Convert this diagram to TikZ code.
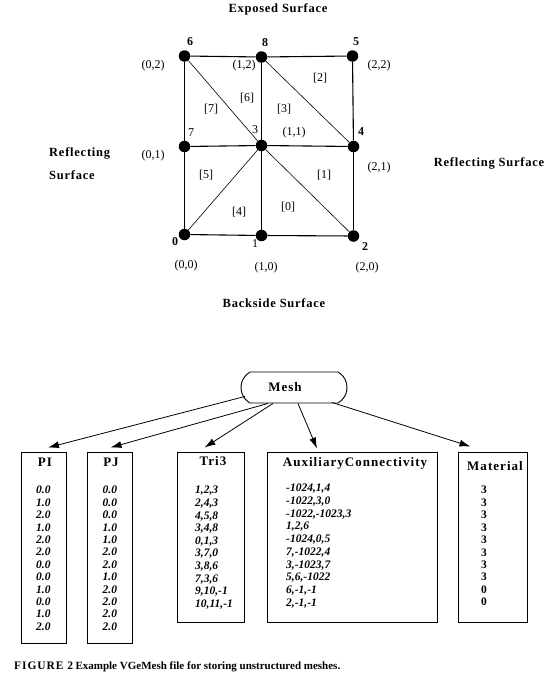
\documentclass[tikz,border=0pt]{standalone}
\usepackage{fontspec}
\setmainfont{Liberation Serif}
\usetikzlibrary{arrows.meta,shapes.misc}
\begin{document}
\begin{tikzpicture}[x=1pt,y=-1pt,
  dot/.style={circle,fill=black,inner sep=0pt,minimum size=11.5pt},
  gridline/.style={line width=1.1pt},
  diagline/.style={line width=0.6pt},
  lbl/.style={inner sep=0pt,font=\fontsize{12}{14}\selectfont},
  numb/.style={inner sep=0pt,font=\fontsize{12}{14}\selectfont},
  numbb/.style={inner sep=0pt,font=\fontsize{12}{14}\selectfont\bfseries},
  ttl/.style={inner sep=0pt,font=\fontsize{12.5}{15}\selectfont\bfseries\addfontfeature{LetterSpace=6}},
  box/.style={draw,line width=0.9pt,inner sep=0pt},
  head/.style={inner sep=0pt,font=\fontsize{13}{15}\selectfont\bfseries\addfontfeature{LetterSpace=8}},
  vals/.style={inner sep=0pt,anchor=north west,align=left,font=\fontsize{11.5}{12.4}\selectfont\bfseries\itshape},
  arr/.style={line width=0.8pt,-{Latex[length=11pt,width=7pt]}}
]
\useasboundingbox (0,0) rectangle (559,680);

% ---- mesh dots
\node[dot] (n6) at (184.5,56) {};
\node[dot] (n8) at (261.5,57) {};
\node[dot] (n5) at (352.5,56) {};
\node[dot] (n7) at (184.5,146.5) {};
\node[dot] (n3) at (261.5,145.5) {};
\node[dot] (n4) at (353.5,146.5) {};
\node[dot] (n0) at (184.5,234.5) {};
\node[dot] (n1) at (261.5,235.5) {};
\node[dot] (n2) at (353.5,236) {};

% ---- grid lines
\draw[gridline] (n6) -- (n8);
\draw[gridline] (n8) -- (n5);
\draw[gridline] (n7) -- (n3);
\draw[gridline] (n3) -- (n4);
\draw[gridline] (n0) -- (n1);
\draw[gridline] (n1) -- (n2);
\draw[gridline] (n6) -- (n7);
\draw[gridline] (n7) -- (n0);
\draw[gridline] (n8) -- (n3);
\draw[gridline] (n3) -- (n1);
\draw[gridline] (n5) -- (n4);
\draw[gridline] (n4) -- (n2);
% ---- diagonals
\draw[diagline] (n6) -- (n3);
\draw[diagline] (n8) -- (n4);
\draw[diagline] (n0) -- (n3);
\draw[diagline] (n3) -- (n2);

% ---- surface titles
\node[ttl] (exposed) at (278,9) {Exposed Surface};
\node[ttl] (backside) at (274,303) {Backside Surface};
\node[ttl,anchor=west] (refl1) at (49,153) {Reflecting};
\node[ttl,anchor=west] (refl2) at (49,175) {Surface};
\node[ttl] (reflr) at (489,163) {Reflecting Surface};

% ---- node numbers
\node[numbb] (t6) at (190,42) {6};
\node[numbb] (t8) at (265,43) {8};
\node[numbb] (t5) at (356,42) {5};
\node[numb] (t7) at (191,133) {7};
\node[numb] (t3) at (255,130) {3};
\node[numbb] (t4) at (361,132) {4};
\node[numbb] (t0) at (175,242) {0};
\node[numb] (t1) at (255,244) {1};
\node[numbb] (t2) at (365,247) {2};

% ---- coordinates
\node[lbl] (c02) at (153,66) {(0,2)};
\node[lbl] (c12) at (244,66) {(1,2)};
\node[lbl] (c22) at (379,66) {(2,2)};
\node[lbl] (c11) at (294,133) {(1,1)};
\node[lbl] (c01) at (153,156) {(0,1)};
\node[lbl] (c21) at (379,168) {(2,1)};
\node[lbl] (c00) at (186,266) {(0,0)};
\node[lbl] (c10) at (266,268) {(1,0)};
\node[lbl] (c20) at (367,268) {(2,0)};

% ---- element numbers
\node[lbl] (e2) at (320,78) {[2]};
\node[lbl] (e6) at (247,98) {[6]};
\node[lbl] (e7) at (211,109) {[7]};
\node[lbl] (e3) at (284,109) {[3]};
\node[lbl] (e5) at (206,175) {[5]};
\node[lbl] (e1) at (324,175) {[1]};
\node[lbl] (e4) at (239,212) {[4]};
\node[lbl] (e0) at (288,207) {[0]};

% ---- data structure
\node[draw,line width=0.9pt,rounded rectangle,rounded rectangle arc length=120,
      minimum width=106pt,minimum height=31pt,inner sep=0pt] (mesh) at (294,387.5) {};
\node[head] (meshtxt) at (285,387) {Mesh};

\node[box,minimum width=45pt,minimum height=191pt] (pi) at (43.5,547.5) {};
\node[box,minimum width=45pt,minimum height=191pt] (pj) at (109.5,547.5) {};
\node[box,minimum width=67pt,minimum height=170pt] (tri) at (210.5,537) {};
\node[box,minimum width=170pt,minimum height=170pt] (aux) at (352,537) {};
\node[box,minimum width=69pt,minimum height=170pt] (mat) at (492.5,537) {};

\node[head] (pih) at (45,462) {PI};
\node[head] (pjh) at (111,462) {PJ};
\node[head] (trih) at (213,461) {Tri3};
\node[head] (auxh) at (355,463) {AuxiliaryConnectivity};
\node[head] (math) at (495,466) {Material};

\node[vals] (piv) at (36,486) {0.0\\1.0\\2.0\\1.0\\2.0\\2.0\\0.0\\0.0\\1.0\\0.0\\1.0\\2.0};
\node[vals] (pjv) at (102.5,486) {0.0\\0.0\\0.0\\1.0\\1.0\\2.0\\2.0\\1.0\\2.0\\2.0\\2.0\\2.0};
\node[vals,font=\fontsize{11.5}{12.6}\selectfont\bfseries\itshape] (triv) at (195,486)
  {1,2,3\\2,4,3\\4,5,8\\3,4,8\\0,1,3\\3,7,0\\3,8,6\\7,3,6\\9,10,-1\\10,11,-1};
\node[vals,font=\fontsize{11.5}{12.7}\selectfont\bfseries\itshape] (auxv) at (286,484)
  {-1024,1,4\\-1022,3,0\\-1022,-1023,3\\1,2,6\\-1024,0,5\\7,-1022,4\\3,-1023,7\\5,6,-1022\\6,-1,-1\\2,-1,-1};
\node[vals,font=\fontsize{11.5}{12.44}\selectfont\bfseries] (matv) at (481,486)
  {3\\3\\3\\3\\3\\3\\3\\3\\0\\0};

% ---- arrows
\draw[arr] ([xshift=-49pt,yshift=7pt]mesh.south) -- ([xshift=4.5pt,yshift=4pt]pi.north);
\draw[arr] ([xshift=-26pt]mesh.south) -- ([xshift=1pt,yshift=4pt]pj.north);
\draw[arr] ([xshift=-21pt]mesh.south) -- ([xshift=-6pt,yshift=4pt]tri.north);
\draw[arr] ([xshift=4pt]mesh.south) -- ([xshift=-35pt,yshift=3pt]aux.north);
\draw[arr] ([xshift=38pt,yshift=1pt]mesh.south) -- ([xshift=-22pt,yshift=5pt]mat.north);

% ---- caption
\node[inner sep=0pt,anchor=west] (caption) at (14,667)
  {{\fontsize{11.5}{13}\selectfont\bfseries\addfontfeature{LetterSpace=8}FIGURE 2}\ {\fontsize{11}{13}\selectfont\bfseries Example VGeMesh file for storing unstructured meshes.}};
\end{tikzpicture}
\end{document}
